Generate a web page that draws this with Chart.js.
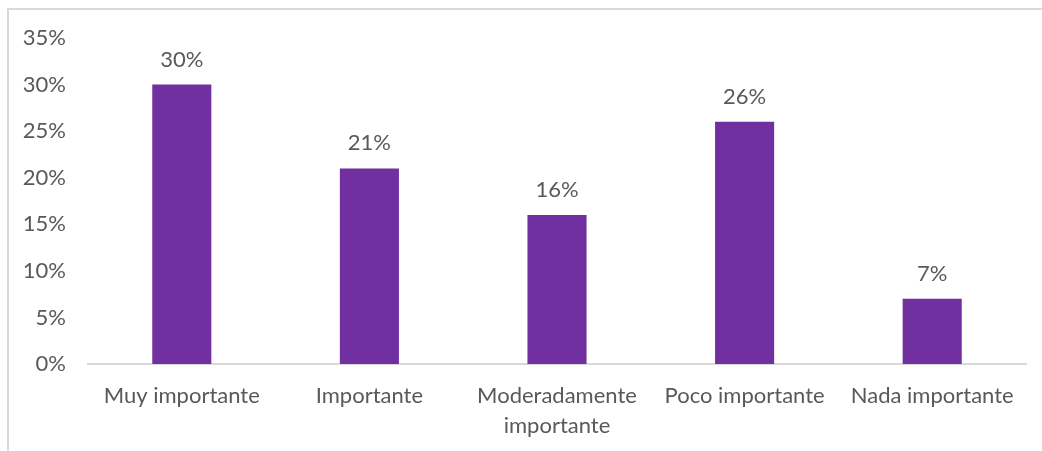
<!DOCTYPE html>
<html>
<head>
<meta charset="utf-8">
<script src="https://cdn.jsdelivr.net/npm/chart.js@4"></script>
<style>
  html, body { margin: 0; padding: 0; background: #fff; }
  #wrap { position: relative; width: 1042px; height: 451px; overflow: hidden; }
  #frame { position: absolute; left: 7px; top: 8px; width: 1100px; height: 500px;
           border-left: 2px solid #d9d9d9; border-top: 2px solid #d9d9d9; box-sizing: border-box; }
  canvas { position: absolute; left: 0; top: 0; }
</style>
</head>
<body>
<div id="wrap">
  <div id="frame"></div>
  <canvas id="c" width="1042" height="451"></canvas>
</div>
<script>
const categories = ['Muy importante', 'Importante', ['Moderadamente', 'importante'], 'Poco importante', 'Nada importante'];
const values = [30, 21, 16, 26, 7];
const yTicks = [0, 5, 10, 15, 20, 25, 30, 35];

const FONT = 'Lato, "Open Sans", sans-serif';
const TEXT = '#595959';

// Value labels drawn above each bar
const barLabels = {
  id: 'barLabels',
  afterDatasetsDraw(chart) {
    const ctx = chart.ctx;
    const meta = chart.getDatasetMeta(0);
    ctx.save();
    ctx.font = '22px ' + FONT;
    ctx.fillStyle = TEXT;
    ctx.textAlign = 'center';
    ctx.textBaseline = 'alphabetic';
    meta.data.forEach((bar, i) => {
      ctx.fillText(values[i] + '%', bar.x, bar.y - 18);
    });
    ctx.restore();
  }
};

new Chart(document.getElementById('c'), {
  type: 'bar',
  data: {
    labels: categories,
    datasets: [{
      data: values,
      backgroundColor: '#7030A0',
      categoryPercentage: 1,
      barPercentage: 0.315
    }]
  },
  options: {
    responsive: false,
    animation: false,
    layout: { padding: { top: 38, right: 16, left: 0, bottom: 0 } },
    plugins: { legend: { display: false }, tooltip: { enabled: false } },
    scales: {
      x: {
        grid: { display: false, drawTicks: false },
        border: { display: true, color: '#d9d9d9', width: 2 },
        ticks: { color: TEXT, font: { family: FONT, size: 22, lineHeight: 1.36 }, padding: 17, maxRotation: 0, autoSkip: false },
        afterFit(s) { s.height = 87; }
      },
      y: {
        min: 0, max: 35,
        afterBuildTicks(s) { s.ticks = yTicks.map(v => ({ value: v })); },
        grid: { display: false, drawTicks: false },
        border: { display: false },
        ticks: { color: TEXT, font: { family: FONT, size: 22 }, padding: 22, callback: v => v + '%' },
        afterFit(s) { s.width = 88; }
      }
    }
  },
  plugins: [barLabels]
});
</script>
</body>
</html>
